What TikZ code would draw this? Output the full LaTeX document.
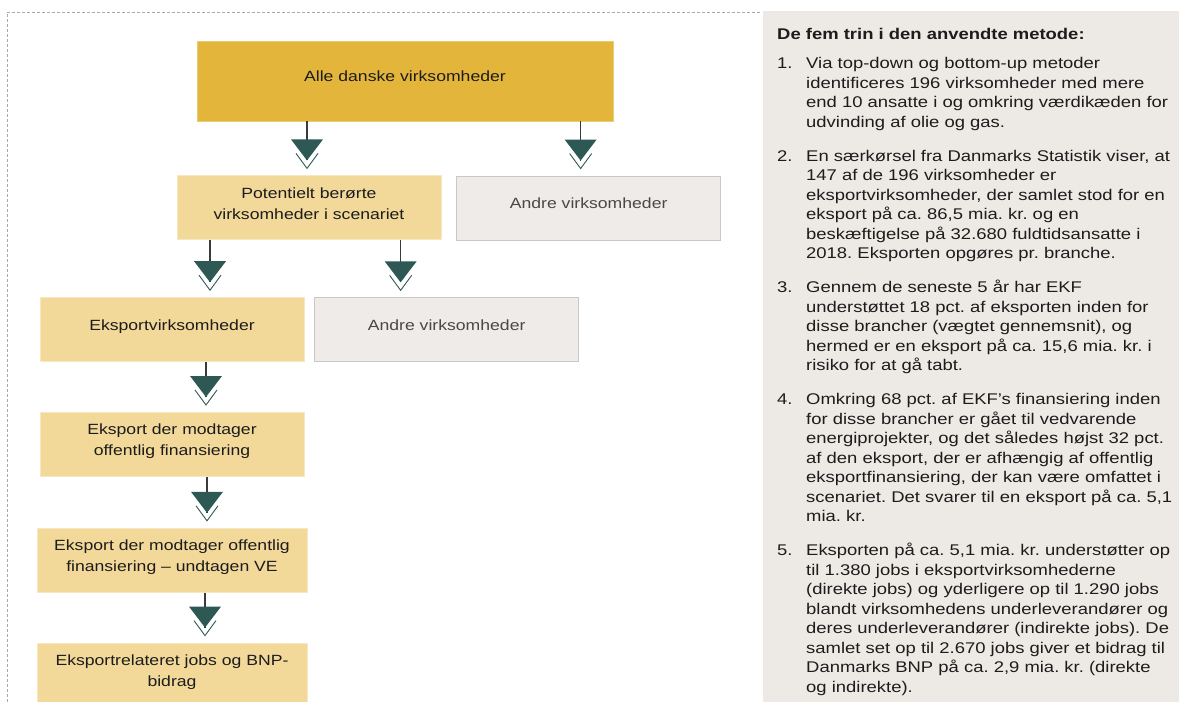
\documentclass[tikz,border=0pt]{standalone}
\usepackage{fontspec}
\setmainfont{Liberation Sans}[FakeStretch=1.19]
\usetikzlibrary{arrows.meta, positioning}
\frenchspacing

\definecolor{goldD}{RGB}{227,181,59}
\definecolor{goldL}{RGB}{242,217,154}
\definecolor{greyBox}{RGB}{238,235,232}
\definecolor{greyPanel}{RGB}{237,234,230}
\definecolor{greyText}{RGB}{72,72,72}
\definecolor{inkc}{RGB}{28,28,28}
\definecolor{linec}{RGB}{58,58,58}
\definecolor{dropc}{RGB}{45,88,84}
\definecolor{framec}{RGB}{170,170,170}

% filled drop with an open chevron under it
\pgfdeclarearrow{
  name = Drop,
  setup code = {
    \pgfarrowssettipend{0pt}
    \pgfarrowssetlineend{-8pt}
    \pgfarrowssetbackend{-29pt}
    \pgfarrowssetvisualbackend{-29pt}
    \pgfarrowshullpoint{0pt}{0pt}
    \pgfarrowsupperhullpoint{-29pt}{16pt}
  },
  drawing code = {
    \pgfsetfillcolor{dropc}
    \pgfpathmoveto{\pgfqpoint{-8pt}{0pt}}
    \pgfpathlineto{\pgfqpoint{-29pt}{16pt}}
    \pgfpathlineto{\pgfqpoint{-29pt}{-16pt}}
    \pgfpathclose
    \pgfusepathqfill
    \pgfsetstrokecolor{dropc}
    \pgfsetlinewidth{0.9pt}
    \pgfsetmiterjoin
    \pgfpathmoveto{\pgfqpoint{-15pt}{11pt}}
    \pgfpathlineto{\pgfqpoint{0pt}{0pt}}
    \pgfpathlineto{\pgfqpoint{-15pt}{-11pt}}
    \pgfusepathqstroke
  }
}

\tikzset{
  boxtext/.style = {
    text=inkc, font=\fontsize{14.8}{21}\selectfont, align=center,
    execute at end node={\rule[-9pt]{0pt}{9pt}}
  },
  allbox/.style = {
    rectangle, draw=goldD!70!white, line width=0.8pt,
    fill=goldD, minimum width=416pt, minimum height=80pt, boxtext
  },
  stepbox/.style = {
    rectangle, draw=goldL!60!white, line width=0.8pt,
    fill=goldL, minimum width=264pt, minimum height=64pt, inner sep=0pt, boxtext
  },
  otherbox/.style = {
    rectangle, draw=greyBox!85!black, line width=0.5pt,
    fill=greyBox, minimum width=264pt, minimum height=64pt, inner sep=0pt,
    boxtext, text=greyText
  },
  panel/.style = {
    rectangle, fill=greyPanel, minimum width=416pt, minimum height=691pt,
    inner sep=0pt, anchor=north west
  },
  steps/.style = {
    inner sep=0pt, text=inkc, font=\fontsize{15.5}{19.5}\selectfont
  },
  frame/.style = {draw=framec, line width=0.7pt, dash pattern=on 3pt off 2pt},
  flow/.style = {-Drop, draw=linec, line width=1.3pt, shorten >=7pt}
}

\begin{document}
\begin{tikzpicture}

  \useasboundingbox (0,0) rectangle (1179pt,-702pt);
  \draw[frame] (760pt,-12pt) -| (7pt,-702pt);

  % left: the funnel
  \node[allbox]   (alle)   at (405pt,-81pt) {Alle danske virksomheder};
  \node[stepbox]  (pot)    [below=54pt of alle.south west, anchor=north west, xshift=-20pt]
                           {Potentielt berørte\\virksomheder i scenariet};
  \node[otherbox] (andre1) [right=15pt of pot] {Andre virksomheder};
  \node[stepbox]  (eksv)   [below=57pt of pot.south west, anchor=north west, xshift=-137pt]
                           {Eksportvirksomheder};
  \node[otherbox] (andre2) [right=10pt of eksv] {Andre virksomheder};
  \node[stepbox]  (modt)   [below=50pt of eksv] {Eksport der modtager\\offentlig finansiering};
  \node[stepbox, minimum width=270pt] (undt) [below=51pt of modt]
                           {Eksport der modtager offentlig\\finansiering -- undtagen VE};
  \node[stepbox, minimum width=270pt] (bnp)  [below=50pt of undt]
                           {Eksportrelateret jobs og BNP-\\bidrag};

  \coordinate (in1) at ([xshift=-2pt]pot.north);
  \coordinate (in2) at ([xshift=-8pt]andre1.north);
  \coordinate (in3) at ([xshift=38pt]eksv.north);
  \coordinate (in4) at ([xshift=-46pt]andre2.north);
  \coordinate (in5) at ([xshift=34pt]modt.north);
  \coordinate (in6) at ([xshift=35pt]undt.north);
  \coordinate (in7) at ([xshift=33pt]bnp.north);

  \draw[flow] (alle.south -| in1) -- (in1);
  \draw[flow] (alle.south -| in2) -- (in2);
  \draw[flow] (pot.south -| in3)  -- (in3);
  \draw[flow] (pot.south -| in4)  -- (in4);
  \draw[flow] (eksv.south -| in5) -- (in5);
  \draw[flow] (modt.south -| in6) -- (in6);
  \draw[flow] (undt.south -| in7) -- (in7);

  % right: the five steps
  \node[panel] (panel) at (763pt,-11pt) {};
  \node[steps] (trin) [below right=14.6pt and 14pt of panel.north west] {%
    \begin{tabular}{@{}p{29pt}@{}l@{}}
      \multicolumn{2}{@{}l@{}}{\bfseries De fem trin i den anvendte metode:}\\[10pt]
      1. & Via top-down og bottom-up metoder\\
         & identificeres 196 virksomheder med mere\\
         & end 10 ansatte i og omkring værdikæden for\\
         & udvinding af olie og gas.\\[14.5pt]
      2. & En særkørsel fra Danmarks Statistik viser, at\\
         & 147 af de 196 virksomheder er\\
         & eksportvirksomheder, der samlet stod for en\\
         & eksport på ca. 86,5 mia. kr. og en\\
         & beskæftigelse på 32.680 fuldtidsansatte i\\
         & 2018. Eksporten opgøres pr. branche.\\[14.5pt]
      3. & Gennem de seneste 5 år har EKF\\
         & understøttet 18 pct. af eksporten inden for\\
         & disse brancher (vægtet gennemsnit), og\\
         & hermed er en eksport på ca. 15,6 mia. kr. i\\
         & risiko for at gå tabt.\\[14.5pt]
      4. & Omkring 68 pct. af EKF’s finansiering inden\\
         & for disse brancher er gået til vedvarende\\
         & energiprojekter, og det således højst 32 pct.\\
         & af den eksport, der er afhængig af offentlig\\
         & eksportfinansiering, der kan være omfattet i\\
         & scenariet. Det svarer til en eksport på ca. 5,1\\
         & mia. kr.\\[14.5pt]
      5. & Eksporten på ca. 5,1 mia. kr. understøtter op\\
         & til 1.380 jobs i eksportvirksomhederne\\
         & (direkte jobs) og yderligere op til 1.290 jobs\\
         & blandt virksomhedens underleverandører og\\
         & deres underleverandører (indirekte jobs). De\\
         & samlet set op til 2.670 jobs giver et bidrag til\\
         & Danmarks BNP på ca. 2,9 mia. kr. (direkte\\
         & og indirekte).
    \end{tabular}};

\end{tikzpicture}
\end{document}
